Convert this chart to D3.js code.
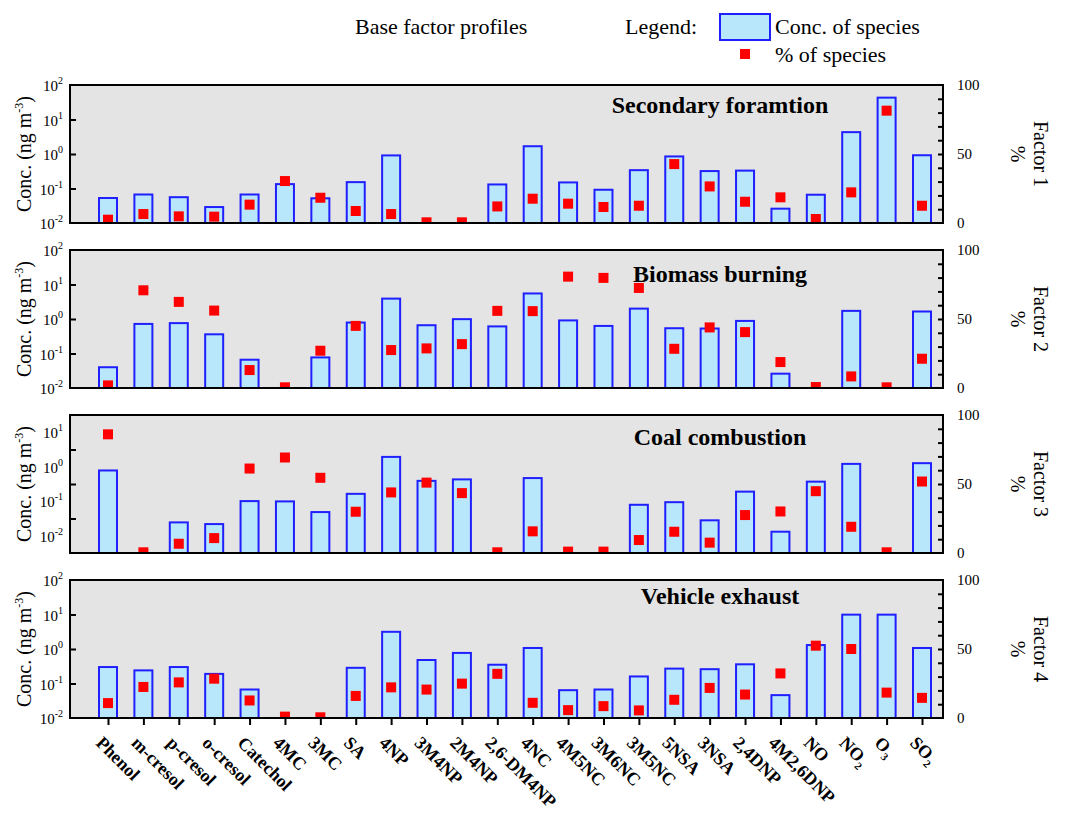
<!DOCTYPE html>
<html>
<head>
<meta charset="utf-8">
<script src="https://d3js.org/d3.v7.min.js"></script>
<style>
  body { margin: 0; background: #fff; }
  text { font-family: "Liberation Serif", "Times New Roman", serif; fill: #000; }
</style>
</head>
<body>
<div id="chart"></div>
<script>
// species along the x axis
const categories = ["Phenol", "m-cresol", "p-cresol", "o-cresol", "Catechol", "4MC", "3MC", "SA",
  "4NP", "3M4NP", "2M4NP", "2,6-DM4NP", "4NC", "4M5NC", "3M6NC", "3M5NC", "5NSA", "3NSA",
  "2,4DNP", "4M2,6DNP", "NO", "NO2", "O3", "SO2"];
const subscripted = ["NO2", "O3", "SO2"];

const factorTitles = ["Secondary foramtion", "Biomass burning", "Coal combustion", "Vehicle exhaust"];
const factorLabels = ["Factor 1", "Factor 2", "Factor 3", "Factor 4"];

// concentration of species (ng m-3), null = no bar
const conc1 = [0.053, 0.067, 0.056, 0.029, 0.067, 0.134, 0.052, 0.153, 0.91, null, null, 0.131,
  1.68, 0.15, 0.092, 0.34, 0.85, 0.32, 0.33, 0.026, 0.066, 4.3, 43, 0.92];
const conc2 = [0.040, 0.72, 0.76, 0.36, 0.066, null, 0.077, 0.79, 3.9, 0.66, 0.99, 0.61,
  5.5, 0.91, 0.63, 2.0, 0.54, 0.53, 0.88, 0.026, null, 1.72, null, 1.65];
const conc3 = [0.78, null, 0.0244, 0.0218, 0.101, 0.099, 0.0486, 0.164, 1.93, 0.39, 0.43, null,
  0.47, null, null, 0.079, 0.094, 0.028, 0.19, 0.0131, 0.37, 1.21, null, 1.27];
const conc4 = [0.30, 0.24, 0.30, 0.19, 0.067, null, null, 0.285, 3.15, 0.48, 0.77, 0.35,
  1.07, 0.064, 0.067, 0.16, 0.27, 0.26, 0.36, 0.046, 1.30, 9.9, 9.9, 1.07];

// % of species
const pct1 = [2.4, 6.5, 4.8, 4.6, 13.3, 30.4, 18.3, 8.7, 6.5, 0.5, 0.5, 12,
  17.6, 14, 11.6, 12.5, 42.7, 26.5, 15.4, 18.6, 2.9, 22.2, 81.4, 12.5];
const pct2 = [1.9, 70.8, 62.4, 56.1, 13, 0.5, 27, 45, 27.5, 28.7, 31.8, 55.9,
  55.7, 80.7, 79.8, 72.5, 28.4, 43.9, 40.5, 18.8, 0.7, 8.4, 0.5, 21.2];
const pct3 = [86, 0.5, 6.7, 10.8, 61.2, 69.2, 54.5, 29.9, 43.9, 51, 43.4, 0.5,
  15.7, 1, 1, 9.4, 15.4, 7.5, 27.5, 30.1, 44.8, 19, 0.5, 51.8];
const pct4 = [10.8, 22.5, 25.8, 28.5, 12.7, 1, 0.5, 16, 22.2, 20.6, 24.9, 32,
  11, 5.7, 8.6, 5.5, 13.2, 21.8, 17, 32.3, 52.4, 50, 18.4, 14.6];

const concSeries = [conc1, conc2, conc3, conc4];
const pctSeries = [pct1, pct2, pct3, pct4];

// tick labels (exponents of ten) on the left axis, and the % labels on the right
const concLabelExps = [[-2, -1, 0, 1, 2], [-2, -1, 0, 1, 2], [-2, -1, 0, 1], [-2, -1, 0, 1, 2]];
const pctLabels = [0, 50, 100];

const width = 1071, height = 819;
const left = 70, right = 943;
const panelTops = [85, 250, 415, 580];
const panelH = 138;
const logDomains = [[-2, 2], [-2, 2], [-2.5, 1.5], [-2, 2]];
const barW = 18, markSize = 10;

const barFill = "#b8e6fb", barStroke = "#1f1fff", markColor = "#ff0000";

const svg = d3.select("#chart").append("svg")
  .attr("width", width)
  .attr("height", height);

const x = d3.scalePoint()
  .domain(categories)
  .range([108, 922]);

// header + legend
svg.append("text").attr("x", 355).attr("y", 34).style("font-size", "22px").text("Base factor profiles");
svg.append("text").attr("x", 625).attr("y", 34).style("font-size", "22px").text("Legend:");
svg.append("rect").attr("x", 720).attr("y", 14).attr("width", 50).attr("height", 26)
  .attr("fill", barFill).attr("stroke", barStroke).attr("stroke-width", 2);
svg.append("text").attr("x", 775).attr("y", 34).style("font-size", "22px").text("Conc. of species");
svg.append("rect").attr("x", 740).attr("y", 49).attr("width", markSize).attr("height", markSize)
  .attr("fill", markColor);
svg.append("text").attr("x", 775).attr("y", 62).style("font-size", "22px").text("% of species");

panelTops.forEach((top, p) => {
  const g = svg.append("g").attr("transform", `translate(0,${top})`);
  const dom = logDomains[p];
  const y = d3.scaleLog()
    .domain([Math.pow(10, dom[0]), Math.pow(10, dom[1])])
    .range([panelH, 0]);
  const yp = d3.scaleLinear().domain([0, 100]).range([panelH, 0]);

  g.append("clipPath").attr("id", "clip" + p)
    .append("rect").attr("x", left).attr("y", 0).attr("width", right - left).attr("height", panelH);

  g.append("rect")
    .attr("x", left).attr("y", 0)
    .attr("width", right - left).attr("height", panelH)
    .attr("fill", "#e4e4e4");

  const rows = categories.map((c, i) => ({ c, conc: concSeries[p][i], pct: pctSeries[p][i] }));

  // bars
  g.append("g").selectAll("rect")
    .data(rows.filter(d => d.conc != null))
    .join("rect")
    .attr("x", d => x(d.c) - barW / 2)
    .attr("y", d => y(d.conc))
    .attr("width", barW)
    .attr("height", d => panelH - y(d.conc))
    .attr("fill", barFill)
    .attr("stroke", barStroke)
    .attr("stroke-width", 2);

  // % markers
  g.append("g").attr("clip-path", `url(#clip${p})`)
    .selectAll("rect")
    .data(rows)
    .join("rect")
    .attr("x", d => x(d.c) - markSize / 2)
    .attr("y", d => yp(d.pct) - markSize / 2)
    .attr("width", markSize)
    .attr("height", markSize)
    .attr("fill", markColor);

  // left ticks (inward), no labels
  const marks = p === 2 ? [-1.5, -0.5, 0.5] : [-1, 0, 1];
  const la = g.append("g")
    .attr("transform", `translate(${left},0)`)
    .call(d3.axisLeft(y).tickValues(marks.map(e => Math.pow(10, e))).tickSize(-6).tickFormat(""));
  la.select(".domain").remove();
  la.selectAll("line").attr("stroke", "#000").attr("stroke-width", 2);

  // left tick labels 10^n
  const lab = g.append("g").selectAll("text")
    .data(concLabelExps[p])
    .join("text")
    .attr("x", 63)
    .attr("y", e => y(Math.pow(10, e)) + 6)
    .attr("text-anchor", "end")
    .style("font-size", "15px");
  lab.append("tspan").text("10");
  lab.append("tspan").attr("dy", -7).style("font-size", "10px").text(e => e);

  // right axis (inward ticks every 10)
  const ra = g.append("g")
    .attr("transform", `translate(${right},0)`)
    .call(d3.axisRight(yp).tickValues(d3.range(10, 100, 10)).tickSize(-5).tickFormat(""));
  ra.select(".domain").remove();
  ra.selectAll("line").attr("stroke", "#000").attr("stroke-width", 2);

  g.append("g").selectAll("text")
    .data(pctLabels)
    .join("text")
    .attr("x", 957)
    .attr("y", d => yp(d) + 5)
    .style("font-size", "15px")
    .text(d => d);

  // frame
  g.append("rect")
    .attr("x", left).attr("y", 0)
    .attr("width", right - left).attr("height", panelH)
    .attr("fill", "none")
    .attr("stroke", "#000")
    .attr("stroke-width", 2);

  // panel title
  g.append("text")
    .attr("x", 720)
    .attr("y", [28, 32, 30, 24][p])
    .attr("text-anchor", "middle")
    .style("font-size", "24px")
    .style("font-weight", "bold")
    .text(factorTitles[p]);

  // left title
  const yt = g.append("text")
    .attr("transform", `translate(31,${panelH / 2}) rotate(-90)`)
    .attr("text-anchor", "middle")
    .style("font-size", "20px");
  yt.append("tspan").text("Conc. (ng m");
  yt.append("tspan").attr("dy", -8).style("font-size", "12px").text("-3");
  yt.append("tspan").attr("dy", 8).text(")");

  // right titles
  g.append("text")
    .attr("transform", `translate(1034,${panelH / 2}) rotate(90)`)
    .attr("text-anchor", "middle")
    .style("font-size", "20px")
    .text(factorLabels[p]);
  g.append("text")
    .attr("transform", `translate(1011,${panelH / 2}) rotate(90)`)
    .attr("text-anchor", "middle")
    .style("font-size", "20px")
    .text("%");

  // x axis on the bottom panel
  if (p === 3) {
    const xa = g.append("g")
      .attr("transform", `translate(0,${panelH})`)
      .call(d3.axisBottom(x).tickSize(7).tickFormat(""));
    xa.select(".domain").remove();
    xa.selectAll("line").attr("stroke", "#000").attr("stroke-width", 2);

    const xl = g.append("g").selectAll("text")
      .data(categories)
      .join("text")
      .attr("transform", c => `translate(${x(c) - 13},${panelH + 26}) rotate(45)`)
      .style("font-size", "18px")
      .style("font-weight", "bold");
    xl.append("tspan").text(c => subscripted.includes(c) ? c.slice(0, -1) : c);
    xl.filter(c => subscripted.includes(c))
      .append("tspan").attr("dy", 5).style("font-size", "11px").text(c => c.slice(-1));
  }
});
</script>
</body>
</html>
